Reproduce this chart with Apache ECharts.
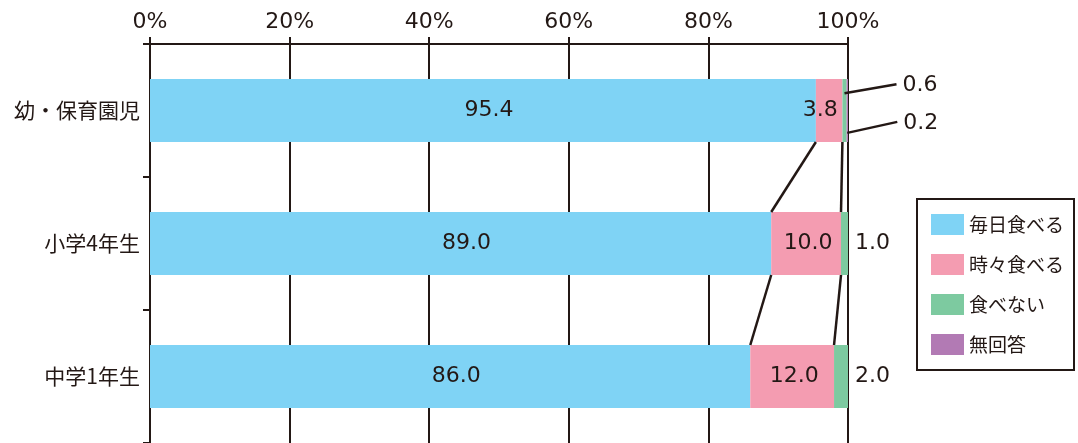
<!DOCTYPE html>
<html>
<head>
<meta charset="utf-8">
<script src="https://cdn.jsdelivr.net/npm/echarts@6/dist/echarts.min.js"></script>
<style>
html,body{margin:0;padding:0;background:#fff;}
#chart{width:1078px;height:443px;}
</style>
</head>
<body>
<div id="chart"></div>
<script>
// ---- data ----
var categories = ['幼・保育園児', '小学4年生', '中学1年生'];
var seriesNames = ['毎日食べる', '時々食べる', '食べない', '無回答'];
var everyDay = [95.4, 89.0, 86.0];
var sometimes = [3.8, 10.0, 12.0];
var never = [0.6, 1.0, 2.0];
var noAnswer = [0.2, 0.0, 0.0];
var xTicks = [0, 20, 40, 60, 80, 100];

// ---- style ----
var TXT = '#231815';
var NUM_FONT = 'DejaVu Sans';
var JP_FONT = 'Noto Sans CJK JP';
var colors = ['#7fd3f5', '#f49cb1', '#7dcaa0', '#b27ab4'];
var BAR_W = 63;

var values = [everyDay, sometimes, never, noAnswer];
// cumulative end of each segment
var cum = values.map(function (_, k) {
  return categories.map(function (_, i) {
    var s = 0;
    for (var j = 0; j <= k; j++) s += values[j][i];
    return s;
  });
});

// connector lines between consecutive bars at end of blue and pink segments
var connectors = [];
[0, 1].forEach(function (k) {
  for (var i = 0; i < categories.length - 1; i++) {
    connectors.push({ value: [cum[k][i], i, cum[k][i + 1], i + 1], kind: 'conn' });
  }
});
// leader-line labels for small segments in first bar
var leaders = [
  { value: [cum[1][0] + never[0] / 2, 0], txt: never[0].toFixed(1), fy: -0.55, dx: 52, dy: -9, kind: 'lead' },
  { value: [cum[2][0] + noAnswer[0] / 2, 0], txt: noAnswer[0].toFixed(1), fy: 0.71, dx: 50, dy: -11, kind: 'lead' }
];

var chart = echarts.init(document.getElementById('chart'));

function numLabel(extra) {
  var o = {
    show: true,
    fontFamily: NUM_FONT,
    fontSize: 22,
    color: TXT,
    formatter: function (p) { return Number(p.value).toFixed(1); }
  };
  for (var k in extra) o[k] = extra[k];
  return o;
}

var barSeries = seriesNames.map(function (name, k) {
  var data = values[k].map(function (v, i) {
    var item = { value: v };
    if (k === 0) item.label = numLabel({ position: 'inside', offset: [6, 0] });
    else if (k === 1) item.label = numLabel({ position: 'inside', offset: [i === 0 ? -9 : 2, 0] });
    else if (k === 2) item.label = i === 0 ? { show: false } : numLabel({ position: 'right', distance: 7 });
    else item.label = { show: false };
    return item;
  });
  return {
    name: name,
    type: 'bar',
    stack: 'total',
    barWidth: BAR_W,
    itemStyle: { color: colors[k] },
    data: data,
    z: 3
  };
});

var customSeries = {
  type: 'custom',
  name: 'lines',
  clip: false,
  z: 5,
  encode: { x: 0, y: 1 },
  data: connectors.concat(leaders),
  renderItem: function (params, api) {
    var item = connectors.concat(leaders)[params.dataIndex];
    var half = BAR_W / 2;
    if (item.kind === 'conn') {
      var a = api.coord([item.value[0], item.value[1]]);
      var b = api.coord([item.value[2], item.value[3]]);
      return {
        type: 'line',
        shape: { x1: a[0], y1: a[1] + half, x2: b[0], y2: b[1] - half },
        style: { stroke: TXT, lineWidth: 2.5 }
      };
    }
    var p = api.coord([item.value[0], item.value[1]]);
    var sx = p[0], sy = p[1] + item.fy * half;
    var ex = sx + item.dx, ey = sy + item.dy;
    return {
      type: 'group',
      children: [
        { type: 'line', shape: { x1: sx, y1: sy, x2: ex, y2: ey }, style: { stroke: TXT, lineWidth: 2.5 } },
        { type: 'text', x: ex + 6, y: ey + 1.5,
          style: { text: item.txt, fontFamily: NUM_FONT, fontSize: 22, fill: TXT, verticalAlign: 'middle', align: 'left' } }
      ]
    };
  }
};

var option = {
  animation: false,
  backgroundColor: '#fff',
  grid: { left: 150, right: 230, top: 44, bottom: 0, containLabel: false },
  legend: {
    data: seriesNames,
    orient: 'vertical',
    left: 917,
    top: 199,
    icon: 'rect',
    itemWidth: 33,
    itemHeight: 21,
    itemGap: 19,
    padding: [15, 10, 15, 14],
    borderColor: TXT,
    borderWidth: 2,
    borderRadius: 0,
    textStyle: { fontFamily: JP_FONT, fontSize: 19, color: TXT }
  },
  xAxis: {
    type: 'value',
    position: 'top',
    min: xTicks[0],
    max: xTicks[xTicks.length - 1],
    interval: xTicks[1] - xTicks[0],
    axisLine: { show: true, lineStyle: { color: TXT, width: 2 } },
    axisTick: { show: true, inside: false, length: 7, lineStyle: { color: TXT, width: 2 } },
    axisLabel: { formatter: '{value}%', fontFamily: NUM_FONT, fontSize: 22, color: TXT, margin: 11 },
    splitLine: { show: true, lineStyle: { color: TXT, width: 2 } }
  },
  yAxis: {
    type: 'category',
    inverse: true,
    data: categories,
    axisLine: { show: true, lineStyle: { color: TXT, width: 2 } },
    axisTick: { show: true, length: 7, lineStyle: { color: TXT, width: 2 } },
    axisLabel: { fontFamily: JP_FONT, fontSize: 21, color: TXT, margin: 10 },
    splitLine: { show: false }
  },
  series: barSeries.concat([customSeries])
};
chart.setOption(option);
</script>
</body>
</html>
